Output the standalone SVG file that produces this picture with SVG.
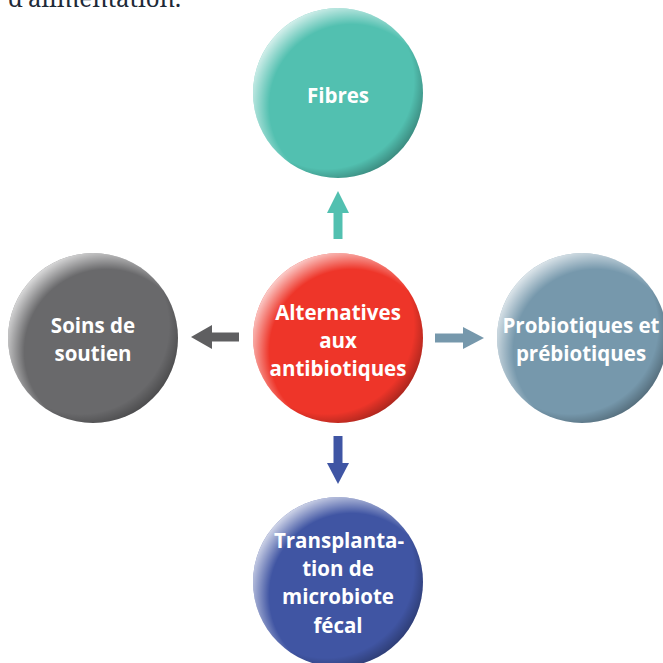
<svg xmlns="http://www.w3.org/2000/svg" width="663" height="663" viewBox="0 0 663 663">
<defs>
  <radialGradient id="lite" cx="0.58" cy="0.58" r="0.62">
    <stop offset="0.78" stop-color="#ffffff" stop-opacity="0"/>
    <stop offset="1" stop-color="#ffffff" stop-opacity="0.8"/>
  </radialGradient>
  <radialGradient id="dark" cx="0.43" cy="0.43" r="0.6">
    <stop offset="0.86" stop-color="#000000" stop-opacity="0"/>
    <stop offset="1" stop-color="#000000" stop-opacity="0.28"/>
  </radialGradient>
</defs>
<style>
  .lab{font-family:"Open Sans","Noto Sans",sans-serif;font-weight:bold;font-size:20.5px;fill:#ffffff;text-anchor:middle}
  .conn line{stroke-width:9;fill:none}
  .hl{fill:url(#lite)}
  .sh{fill:url(#dark)}
</style>
<text x="8" y="7" font-family="'Noto Serif','DejaVu Serif',serif" font-size="24" fill="#1e2a38">d’alimentation.</text>

<g id="connectors" class="conn">
  <line x1="338" y1="239" x2="338" y2="213" stroke="#52c0b0"/>
  <path d="M327,213 L349,213 L338,191 Z" fill="#52c0b0"/>
  <line x1="239" y1="337" x2="212" y2="337" stroke="#5f5f61"/>
  <path d="M212,325 L212,349 L191,337 Z" fill="#5f5f61"/>
  <line x1="435" y1="338" x2="463" y2="338" stroke="#7698ac"/>
  <path d="M463,327 L463,349 L484,338 Z" fill="#7698ac"/>
  <line x1="338" y1="436" x2="338" y2="463" stroke="#3f55a4"/>
  <path d="M327,463 L349,463 L338,484 Z" fill="#3f55a4"/>
</g>

<g id="fibres">
  <circle cx="338" cy="93" r="85" fill="#52c0b0"/>
  <circle cx="338" cy="93" r="85" class="hl"/>
  <circle cx="338" cy="93" r="85" class="sh"/>
  <text class="lab" x="338" y="103">Fibres</text>
</g>

<g id="alternatives">
  <circle cx="338" cy="338" r="85" fill="#ee3529"/>
  <circle cx="338" cy="338" r="85" class="hl"/>
  <circle cx="338" cy="338" r="85" class="sh"/>
  <text class="lab" x="338" y="320">Alternatives</text>
  <text class="lab" x="338" y="348">aux</text>
  <text class="lab" x="338" y="376">antibiotiques</text>
</g>

<g id="soins">
  <circle cx="93" cy="338" r="85" fill="#69696b"/>
  <circle cx="93" cy="338" r="85" class="hl"/>
  <circle cx="93" cy="338" r="85" class="sh"/>
  <text class="lab" x="93" y="333">Soins de</text>
  <text class="lab" x="93" y="361">soutien</text>
</g>

<g id="probiotiques">
  <circle cx="582" cy="338" r="85" fill="#7698ac"/>
  <circle cx="582" cy="338" r="85" class="hl"/>
  <circle cx="582" cy="338" r="85" class="sh"/>
  <text class="lab" x="581" y="333">Probiotiques et</text>
  <text class="lab" x="581" y="361">prébiotiques</text>
</g>

<g id="transplantation">
  <circle cx="338" cy="582" r="85" fill="#4055a3"/>
  <circle cx="338" cy="582" r="85" class="hl"/>
  <circle cx="338" cy="582" r="85" class="sh"/>
  <text class="lab" x="339" y="548">Transplanta-</text>
  <text class="lab" x="338" y="576">tion de</text>
  <text class="lab" x="338" y="604">microbiote</text>
  <text class="lab" x="338" y="633">fécal</text>
</g>
</svg>
